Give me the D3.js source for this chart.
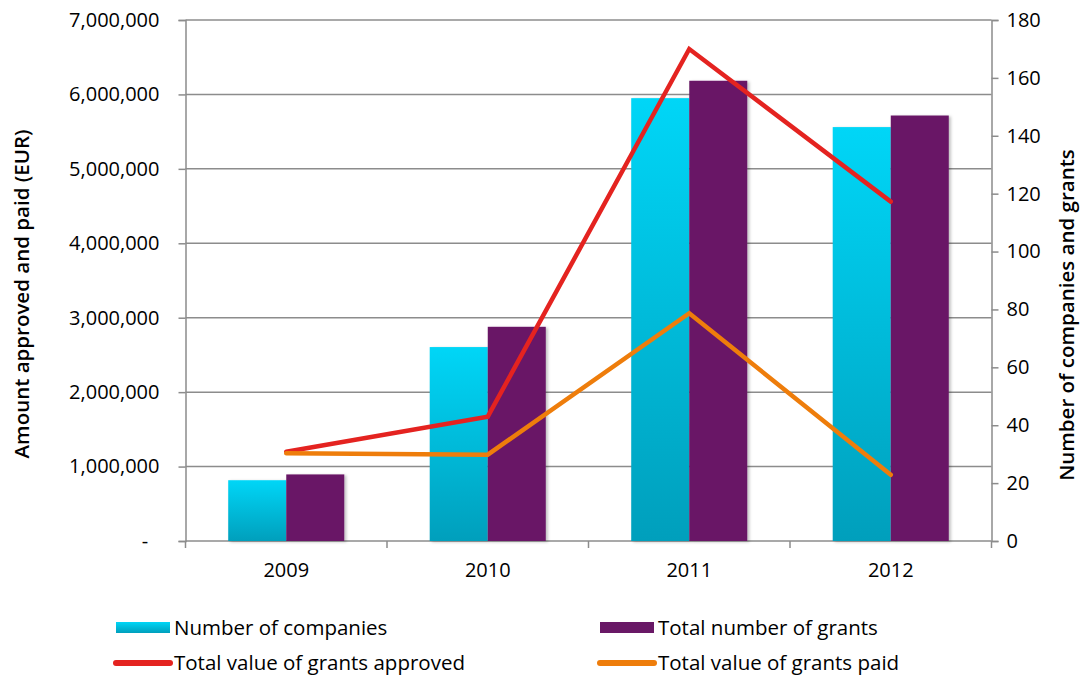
<!DOCTYPE html>
<html>
<head>
<meta charset="utf-8">
<script src="https://cdn.jsdelivr.net/npm/d3@7"></script>
<style>
  html, body { margin: 0; padding: 0; background: #fff; }
  svg { display: block; }
  text { font-family: "Open Sans", "Noto Sans", sans-serif; fill: #000; }
</style>
</head>
<body>
<svg id="chart" width="1081" height="677"></svg>
<script>
// Grant programme figures per year
const years = ["2009", "2010", "2011", "2012"];
const companies = [21, 67, 153, 143];          // number of companies (right axis)
const grants = [23, 74, 159, 147];             // total number of grants (right axis)
const approved = [1200000, 1670000, 6610000, 4560000]; // EUR approved (left axis)
const paid = [1180000, 1160000, 3060000, 890000];      // EUR paid (left axis)
const leftTicks = [0, 1000000, 2000000, 3000000, 4000000, 5000000, 6000000, 7000000];
const rightTicks = [0, 20, 40, 60, 80, 100, 120, 140, 160, 180];

const svg = d3.select("#chart");
const m = { left: 185.5, right: 991.5, top: 20, bottom: 541 };
const grid = "#8c8c8c";

const x = d3.scaleBand().domain(years).range([m.left, m.right]);
const bw = x.bandwidth();
const xs = d3.scaleBand().domain(["companies", "grants"]).range([bw * 0.212, bw * 0.788]);
const yL = d3.scaleLinear().domain([0, 7000000]).range([m.bottom, m.top]);
const yR = d3.scaleLinear().domain([0, 180]).range([m.bottom, m.top]);

const defs = svg.append("defs");
const grad = defs.append("linearGradient").attr("id", "cyanGrad")
  .attr("x1", 0).attr("y1", 0).attr("x2", 0).attr("y2", 1);
grad.append("stop").attr("offset", "0%").attr("stop-color", "#00d6f7");
grad.append("stop").attr("offset", "100%").attr("stop-color", "#009fbc");
const shadow = defs.append("filter").attr("id", "barShadow")
  .attr("x", "-10%").attr("y", "-10%").attr("width", "130%").attr("height", "120%");
shadow.append("feDropShadow").attr("dx", 2).attr("dy", 1).attr("stdDeviation", 1.5)
  .attr("flood-color", "#000").attr("flood-opacity", 0.25);

// horizontal gridlines
svg.append("g").selectAll("line").data(leftTicks.slice(1)).join("line")
  .attr("x1", m.left).attr("x2", m.right)
  .attr("y1", d => yL(d)).attr("y2", d => yL(d))
  .attr("stroke", grid).attr("stroke-width", 1.5);

// left axis
const fmt = d3.format(",");
const gL = svg.append("g").attr("transform", `translate(${m.left},0)`)
  .call(d3.axisLeft(yL).tickValues(leftTicks).tickSize(7).tickPadding(19)
    .tickFormat(d => d === 0 ? "-\u2007" : fmt(d)));
// right axis
const gR = svg.append("g").attr("transform", `translate(${m.right},0)`)
  .call(d3.axisRight(yR).tickValues(rightTicks).tickSize(7).tickPadding(8));
// bottom axis with ticks at category boundaries
const gB = svg.append("g").attr("transform", `translate(0,${m.bottom})`)
  .call(d3.axisBottom(x).tickSize(0).tickPadding(22));
gB.append("g").selectAll("line")
  .data(years.map(y => x(y)).concat([m.right])).join("line")
  .attr("x1", d => d).attr("x2", d => d).attr("y1", 0).attr("y2", 7)
  .attr("stroke", grid).attr("stroke-width", 1.5);

[gL, gR, gB].forEach(g => {
  g.select(".domain").attr("stroke", grid).attr("stroke-width", 1.5);
  g.selectAll(".tick line").attr("stroke", grid).attr("stroke-width", 1.5);
  g.selectAll("text").attr("font-family", "Open Sans").attr("font-size", 20)
    .attr("fill", "#000").style("white-space", "pre");
});
gB.select(".domain").attr("d", `M${m.left},0H${m.right}`);

// bars
const bars = svg.append("g").attr("filter", "url(#barShadow)");
years.forEach((yr, i) => {
  bars.append("rect")
    .attr("x", x(yr) + xs("companies")).attr("width", xs.bandwidth())
    .attr("y", yR(companies[i])).attr("height", yR(0) - yR(companies[i]))
    .attr("fill", "url(#cyanGrad)");
  bars.append("rect")
    .attr("x", x(yr) + xs("grants")).attr("width", xs.bandwidth())
    .attr("y", yR(grants[i])).attr("height", yR(0) - yR(grants[i]))
    .attr("fill", "#691866");
});

// lines
const cx = i => x(years[i]) + bw / 2;
const line = d3.line().x((d, i) => cx(i)).y(d => yL(d));
svg.append("path").datum(approved).attr("d", line)
  .attr("fill", "none").attr("stroke", "#e42320").attr("stroke-width", 4.5)
  .attr("stroke-linecap", "round").attr("stroke-linejoin", "miter");
svg.append("path").datum(paid).attr("d", line)
  .attr("fill", "none").attr("stroke", "#ee7d0b").attr("stroke-width", 4.5)
  .attr("stroke-linecap", "round").attr("stroke-linejoin", "miter");

// axis titles
svg.append("text")
  .attr("transform", "translate(29,294) rotate(-90)")
  .attr("text-anchor", "middle").attr("font-size", 20.5).attr("font-weight", 600)
  .text("Amount approved and paid (EUR)");
svg.append("text")
  .attr("transform", "translate(1074,315) rotate(-90)")
  .attr("text-anchor", "middle").attr("font-size", 20.5).attr("font-weight", 600)
  .text("Number of companies and grants");

// legend
const legend = [
  { label: "Number of companies", type: "bar", color: "url(#cyanGrad)", x: 116, y: 628 },
  { label: "Total number of grants", type: "bar", color: "#691866", x: 600, y: 628 },
  { label: "Total value of grants approved", type: "line", color: "#e42320", x: 116, y: 663 },
  { label: "Total value of grants paid", type: "line", color: "#ee7d0b", x: 600, y: 663 }
];
const lg = svg.append("g");
legend.forEach(d => {
  if (d.type === "bar") {
    lg.append("rect").attr("x", d.x).attr("y", d.y - 6).attr("width", 54).attr("height", 11)
      .attr("fill", d.color);
  } else {
    lg.append("line").attr("x1", d.x).attr("x2", d.x + 54).attr("y1", d.y).attr("y2", d.y)
      .attr("stroke", d.color).attr("stroke-width", 6).attr("stroke-linecap", "round");
  }
  lg.append("text").attr("x", d.x + 58).attr("y", d.y).attr("dy", "0.35em")
    .attr("font-size", 20.5).text(d.label);
});
</script>
</body>
</html>
